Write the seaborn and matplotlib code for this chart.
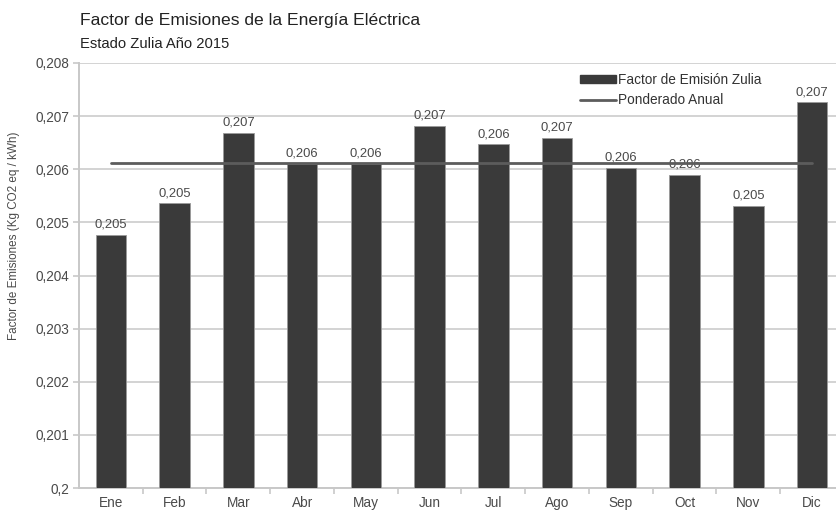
import numpy as np
import pandas as pd
import matplotlib
matplotlib.use("Agg")
import matplotlib.pyplot as plt
from matplotlib.ticker import FuncFormatter, FixedLocator
from matplotlib.patches import Patch
from matplotlib.lines import Line2D
import seaborn as sns

meses = ["Ene", "Feb", "Mar", "Abr", "May", "Jun",
         "Jul", "Ago", "Sep", "Oct", "Nov", "Dic"]
factor_zulia = [0.20476, 0.20536, 0.20668, 0.20610, 0.20610, 0.20682,
                0.20647, 0.20659, 0.20603, 0.20589, 0.20531, 0.20726]
ponderado_anual = 0.20611

titulo = "Factor de Emisiones de la Energía Eléctrica"
subtitulo = "Estado Zulia Año 2015"
eje_y = "Factor de Emisiones (Kg CO2 eq / kWh)"

df = pd.DataFrame({"mes": meses, "factor": factor_zulia,
                   "ponderado": [ponderado_anual] * len(meses)})

sns.set_theme(style="whitegrid")
plt.rcParams["font.family"] = ["Liberation Sans", "DejaVu Sans"]

BAR = "#3a3a3a"
TXT = "#4a4a4a"
GRID = "#d3d3d3"

fig = plt.figure(figsize=(8.37, 5.12), dpi=100)
ax = fig.add_axes([79 / 837, 1 - 488 / 512, (844 - 79) / 837, (488 - 63) / 512])

sns.barplot(data=df, x="mes", y="factor", color=BAR, width=0.48,
            saturation=1, edgecolor="#9a9a9a", linewidth=0.6, ax=ax, zorder=3)
sns.lineplot(data=df, x="mes", y="ponderado", color="#5c5c5c", linewidth=2.0,
             ax=ax, zorder=4)

ax.set_ylim(0.2, 0.208)
ax.set_xlim(-0.5, 11.5)
ax.yaxis.set_major_locator(FixedLocator(np.arange(0.2, 0.20801, 0.001)))
ax.yaxis.set_major_formatter(FuncFormatter(lambda v, p: f"{v:g}".replace(".", ",")))

etiquetas = [f"{v:.3f}".replace(".", ",") for v in factor_zulia]
ax.bar_label(ax.containers[0], labels=etiquetas, padding=3,
             fontsize=9.4, color=TXT)

ax.grid(axis="y", color=GRID, linewidth=1.4, zorder=0)
ax.grid(axis="x", visible=False)
ax.set_axisbelow(True)
for s in ["top", "right"]:
    ax.spines[s].set_visible(False)
for s in ["left", "bottom"]:
    ax.spines[s].set_visible(True)
    ax.spines[s].set_color("#c8c8c8")
    ax.spines[s].set_linewidth(1.4)

ax.tick_params(axis="y", which="major", length=4.5, width=1.2, color="#c8c8c8",
               pad=2.5, labelsize=9.8, labelcolor=TXT, left=True)
ax.set_xticks(np.arange(0.5, 11.5, 1.0), minor=True)
ax.tick_params(axis="x", which="minor", length=4, width=1.2, color="#c8c8c8",
               bottom=True)
ax.tick_params(axis="x", which="major", length=0, pad=6, labelsize=9.8,
               labelcolor=TXT)

ax.set_xlabel("")
ax.set_ylabel(eje_y, fontsize=8.4, color=TXT)
ax.yaxis.set_label_coords(-0.077, 0.593)

handles = [Patch(facecolor=BAR, edgecolor=BAR),
           Line2D([0], [0], color="#5c5c5c", linewidth=2.0)]
leg = ax.legend(handles, ["Factor de Emisión Zulia", "Ponderado Anual"],
                loc="upper left", bbox_to_anchor=(580 / 837, 1 - 73 / 512),
                bbox_transform=fig.transFigure, frameon=False, fontsize=9.8,
                handlelength=2.65, handleheight=0.5, handletextpad=0.12,
                labelspacing=0.45, borderaxespad=0, borderpad=0)
for t in leg.get_texts():
    t.set_color("#333333")

fig.text(80 / 837, 1 - 25 / 512, titulo, fontsize=12.6, color="#222222",
         va="baseline", ha="left")
fig.text(80 / 837, 1 - 48 / 512, subtitulo, fontsize=10.6, color="#222222",
         va="baseline", ha="left")

fig.savefig("out.png", dpi=100, facecolor="white")
